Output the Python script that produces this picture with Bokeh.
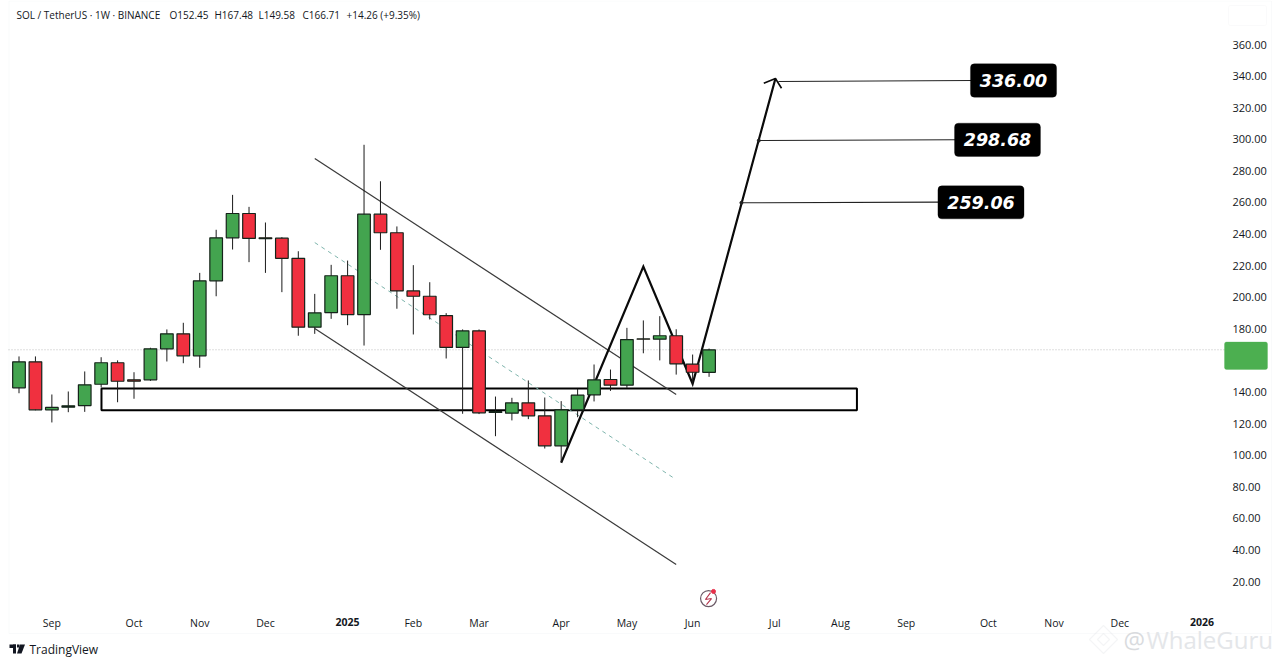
from bokeh.plotting import figure
from bokeh.embed import file_html
from bokeh.resources import INLINE
from bokeh.models import (Range1d, LinearAxis, FixedTicker, NumeralTickFormatter, Label,
                          BoxAnnotation, PolyAnnotation, ColumnDataSource)

# ---- data: one weekly candle per index
opens  = [142.6,159.1,128.7,130.4,131.4,144.9,158.5,147.7,147.7,167.3,176.8,162.9,210.4,237.6,253.0,237.6,237.4,224.6,181.0,190.3,213.6,189.0,252.6,240.8,204.0,200.6,188.4,168.2,178.7,127.5,126.6,133.1,124.9,105.9,128.7,138.2,147.9,144.3,173.6,173.4,175.6,157.6,152.45]
closes = [159.1,128.7,130.2,131.2,144.5,158.5,146.8,146.8,167.3,176.8,162.9,210.4,237.6,253.0,237.2,237.0,224.6,181.0,190.1,213.6,189.0,252.6,240.8,204.0,200.6,188.9,168.2,178.7,126.8,127.0,133.1,124.9,105.9,128.7,138.0,147.7,144.3,173.2,173.4,175.6,157.8,152.5,166.71]
highs  = [162.5,162.5,138.4,140.3,153.0,162.0,160.0,152.5,168.0,179.6,183.8,215.4,242.7,264.8,257.2,247.3,238.0,229.1,202.1,220.5,223.2,296.5,273.4,244.8,220.3,209.5,189.9,179.6,179.6,137.1,136.3,147.3,136.5,134.2,142.0,157.4,154.2,180.6,185.3,188.0,179.7,163.7,167.48]
lows   = [139.2,128.4,120.7,127.2,127.4,142.8,133.5,135.7,147.0,159.3,158.2,155.3,200.6,230.2,222.2,215.4,203.2,175.6,176.8,186.3,182.3,169.4,230.0,192.7,176.4,185.9,161.2,126.2,126.0,112.0,122.0,122.8,104.2,95.5,124.0,134.0,140.7,142.6,164.5,160.0,151.0,145.2,149.58]

month_ticks  = [2,7,11,15,24,28,33,37,41,46,50,54,59,63,67]
month_labels = ["Sep","Oct","Nov","Dec","Feb","Mar","Apr","May","Jun","Jul","Aug","Sep","Oct","Nov","Dec"]
year_ticks   = [20,72]
year_labels  = ["2025","2026"]
price_ticks  = list(range(20, 361, 20))

last_price = 166.71
zone_left, zone_right, zone_top, zone_bottom = 5.02, 51.0, 142.2, 128.4
channel_x = [18, 40]
channel_upper = [287.8, 138.4]
channel_lower = [180.2, 30.8]
channel_mid_x = [18, 39.9]
channel_mid = [234.6, 85.2]
path_x = [33, 38, 41, 46.04]
path_y = [95.2, 219.4, 145.2, 338.5]
head_x = [45.33, 46.04, 46.41]
head_y = [335.5, 338.5, 332.3]
target_labels = ["336.00", "298.68", "259.06"]
target_start_x = [46.22, 45.03, 43.97]
target_start_y = [336.6, 299.2, 259.8]
target_end_x = [58.0, 57.0, 56.0]
target_end_y = [337.2, 299.7, 260.2]
box_left = [57.91, 56.94, 55.93]
box_right = [63.15, 62.17, 61.17]
box_top = [347.8, 310.2, 270.5]
box_bottom = [326.6, 289.1, 249.6]

header_texts = ["SOL / TetherUS \u00b7 1W \u00b7 BINANCE", "O152.45", "H167.48", "L149.58", "C166.71", "+14.26 (+9.35%)"]
header_px = [16, 169, 214, 258, 302, 346]

GREEN, RED = "#43a44f", "#f0303f"
FONT = "Open Sans"
TXT = "#131722"

p = figure(width=1280, height=664, output_backend="svg", toolbar_location=None,
           x_range=Range1d(-1.126, 76.78), y_range=Range1d(-32.55, 387.86),
           x_axis_type=None, y_axis_type=None,
           min_border_left=0, min_border_top=0, min_border_right=0, min_border_bottom=0,
           background_fill_color="white", border_fill_color="white", outline_line_color=None)
p.grid.visible = False

xa = LinearAxis(ticker=FixedTicker(ticks=month_ticks),
                major_label_overrides=dict(zip(month_ticks, month_labels)), fixed_location=2.9)
ya = LinearAxis(ticker=FixedTicker(ticks=price_ticks), formatter=NumeralTickFormatter(format="0.00"), fixed_location=73.49)
for a in (xa, ya):
    a.axis_line_color = None
    a.major_tick_line_color = None
    a.minor_tick_line_color = None
    a.major_tick_out = 0
    a.major_tick_in = 0
    a.major_label_text_font = FONT
    a.major_label_text_color = TXT
xa.major_label_text_font_size = "10.5px"
ya.major_label_text_font_size = "11px"
xa.major_label_standoff = 7
ya.major_label_standoff = 6
p.add_layout(xa, "below")
p.add_layout(ya, "right")

def txt(text, x, y, x_units="canvas", y_units="canvas", size="10px", color=TXT, align="left", style="normal", font=FONT):
    p.add_layout(Label(x=x, y=y, x_units=x_units, y_units=y_units, text=text, text_font=font,
                       text_font_size=size, text_color=color, text_align=align,
                       text_baseline="middle", text_font_style=style))

def cbox(l, r, t, b, fill=None, line=None, radius=0, level="overlay"):
    p.add_layout(BoxAnnotation(left=l, right=r, top=t, bottom=b, left_units="canvas", right_units="canvas",
                               top_units="canvas", bottom_units="canvas",
                               fill_color=fill, fill_alpha=1 if fill else 0, line_color=line,
                               border_radius=radius, level=level))

def cpoly(xs, ys, fill, line):
    p.add_layout(PolyAnnotation(xs=xs, ys=ys, xs_units="canvas", ys_units="canvas",
                                fill_color=fill, fill_alpha=1 if fill else 0, line_color=line, line_width=1.2))

# chart chrome
cbox(8.5, 1271, 0.5, 633, line="#eceef2", level="underlay")
p.line([-0.639, 73.4], [last_price, last_price], line_color="#bdbdbd", line_dash="1 2", line_width=1)

# drawings behind the candles
p.quad(left=[zone_left], right=[zone_right], top=[zone_top], bottom=[zone_bottom], fill_color=None, line_color="black", line_width=2)
p.line(channel_x, channel_upper, line_color="#3a3a3a", line_width=1.2)
p.line(channel_x, channel_lower, line_color="#3a3a3a", line_width=1.2)
p.line(channel_mid_x, channel_mid, line_color="#7fb5ad", line_width=1, line_dash="4 4")
p.line(path_x, path_y, line_color="#0a0a0a", line_width=2.2, line_join="miter")
p.line(head_x, head_y, line_color="#0a0a0a", line_width=1.6)
for i in range(3):
    p.line([target_start_x[i], target_end_x[i]], [target_start_y[i], target_end_y[i]], line_color="#222222", line_width=1.1)
p.scatter(target_start_x[1:], target_start_y[1:], size=3, color="#222222")

# candles
n = len(opens)
src = ColumnDataSource(dict(x=list(range(n)), o=opens, c=closes, h=highs, l=lows,
                            top=[max(a, b) for a, b in zip(opens, closes)],
                            bottom=[min(a, b) for a, b in zip(opens, closes)],
                            color=[GREEN if c >= o else RED for o, c in zip(opens, closes)]))
p.segment("x", "h", "x", "l", source=src, line_color="#1a1a1a", line_width=1)
p.vbar("x", 0.77, "top", "bottom", source=src, fill_color="color", line_color="#15231a", line_width=1.2)

# lightning marker
p.scatter([41.97], [9.2], size=16, fill_color=None, line_color="#6b5a66", line_width=1.2)
p.line([42.09, 41.78, 42.15, 41.84], [13.0, 8.6, 9.2, 5.4], line_color="#b5344d", line_width=1.1)
p.scatter([42.27], [13.7], size=4, color="#e8304a")

# target boxes
for i in range(3):
    p.add_layout(BoxAnnotation(left=box_left[i], right=box_right[i], top=box_top[i], bottom=box_bottom[i],
                               fill_color="black", fill_alpha=1, line_color="black", border_radius=4))
    txt(target_labels[i], (box_left[i] + box_right[i]) / 2, (box_top[i] + box_bottom[i]) / 2, "data", "data",
        size="17.5px", color="white", align="center", style="bold italic", font="DejaVu Sans")

# header
for t, px in zip(header_texts, header_px):
    txt(t, px, 14)

# year labels (bold)
for t, x in zip(year_labels, year_ticks):
    txt(t, x, 621, x_units="data", align="center", style="bold", size="10.5px")

# USDT box
cbox(1228, 1266, 5, 25, fill="white", line="#eef0f3", radius=2)
txt("USDT", 1247, 15, align="center")

# last price tag
cbox(1224, 1267, 341.5, 369, fill="#4caf50", line="#4caf50", radius=2)
txt("166.71", 1247, 349, align="center", color="white")
txt("4d 11h", 1247, 361, align="center", color="#e6f4e6")

# TradingView mark
cbox(9, 15.5, 644, 647.5, fill="#131722")
cbox(12.5, 15.5, 644, 653, fill="#131722")
cbox(16.5, 19, 644, 647, fill="#131722")
cpoly([19.5, 24.5, 21, 16.5], [644, 644, 653, 653], "#131722", None)
txt("TradingView", 29, 648.5, size="12px")

# Binance / author watermark
cpoly([1103, 1117, 1103, 1089], [625, 639, 653, 639], None, "#dcdee1")
cpoly([1103, 1109, 1103, 1097], [633, 639, 645, 639], None, "#dcdee1")
txt("@", 1123, 639, size="24px", color="#d9dbde")
txt("WhaleGuru", 1146, 639, size="24px", color="#e4e6e9")

open("out.html", "w").write(file_html(p, INLINE))
